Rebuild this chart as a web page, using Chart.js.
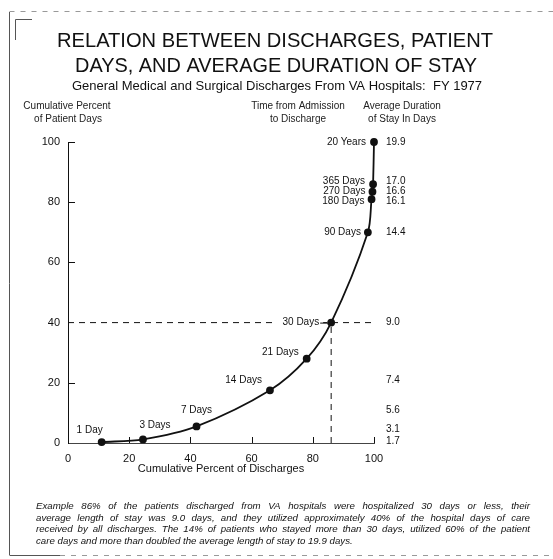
<!DOCTYPE html>
<html>
<head>
<meta charset="utf-8">
<script src="https://cdn.jsdelivr.net/npm/chart.js@4.4.1/dist/chart.umd.min.js"></script>
<style>
  html, body { margin: 0; padding: 0; background: #fff; }
  #wrap { width: 553px; height: 559px; position: relative; }
</style>
</head>
<body>
<div id="wrap"><canvas id="stay_chart"></canvas></div>
<script>
(function () {
    "use strict";

    // data
    const stayLabels = ['1 Day', '3 Days', '7 Days', '14 Days', '21 Days', '30 Days',
        '90 Days', '180 Days', '270 Days', '365 Days', '20 Years'];
    const pctDischarges = [11, 24.5, 42, 66, 78, 86, 98, 99.2, 99.5, 99.7, 100];
    const pctPatientDays = [0.3, 1.2, 5.5, 17.5, 28, 40, 70, 81, 83.5, 86, 100];
    const avgStay = [null, 1.7, 3.1, 5.6, 7.4, 9.0, 14.4, 16.1, 16.6, 17.0, 19.9];
    const xTicks = [0, 20, 40, 60, 80, 100];
    const yTicks = [0, 20, 40, 60, 80, 100];
    const refIndex = 5; // the 30 day point used for the guide lines

    const FONT = '"Liberation Sans", Arial, sans-serif';
    const ink = '#111';

    const points = pctDischarges.map((x, i) => ({ x: x, y: pctPatientDays[i] }));
    const ref = points[refIndex];

    // label placement next to each point: [dx, dy, align]
    const labelPos = [
        [-12, -12, 'center'], [12, -14, 'center'], [0, -16, 'center'],
        [-8, -10, 'right'], [-8, -6, 'right'], [-12, 0, 'right'],
        [-7, 0, 'right'], [-7, 2, 'right'], [-7, 0, 'right'], [-8, -3, 'right'], [-8, 0, 'right']
    ];
    // small vertical nudges for the right hand column
    const avgNudge = [0, 2, 3, 20, 22, 0, 0, 2, 0, -3, 0];

    const footLines = [
        'Example  86% of the patients discharged from VA hospitals were hospitalized 30 days or less, their',
        'average length of stay was 9.0 days, and they utilized approximately 40% of the hospital days of care',
        'received by all discharges. The 14% of patients who stayed more than 30 days, utilized 60% of the patient',
        'care days and more than doubled the average length of stay to 19.9 days.'
    ];

    function justify(ctx, text, x, y, width) {
        const words = text.split(' ').filter(w => w.length);
        let total = 0;
        words.forEach(w => { total += ctx.measureText(w).width; });
        const gap = (width - total) / (words.length - 1);
        let cx = x;
        words.forEach(w => {
            ctx.fillText(w, cx, y);
            cx += ctx.measureText(w).width + gap;
        });
    }

    const decorations = {
        id: 'decorations',
        beforeDraw(chart) {
            const c = chart.ctx;
            c.save();
            c.fillStyle = '#fff';
            c.fillRect(0, 0, chart.width, chart.height);
            // scanned frame
            c.strokeStyle = '#555';
            c.lineWidth = 1;
            c.beginPath();
            c.moveTo(9.5, 12); c.lineTo(9.5, 555);
            c.moveTo(9.5, 555.5); c.lineTo(60, 555.5);
            c.moveTo(15.5, 40); c.lineTo(15.5, 19.5); c.lineTo(32, 19.5);
            c.stroke();
            c.strokeStyle = '#999';
            c.setLineDash([5, 6]);
            c.beginPath();
            c.moveTo(9.5, 11.5); c.lineTo(553, 11.5);
            c.moveTo(60, 555.5); c.lineTo(553, 555.5);
            c.stroke();
            c.setLineDash([]);

            // titles
            c.fillStyle = ink;
            c.textAlign = 'center';
            c.textBaseline = 'alphabetic';
            c.font = '21px ' + FONT;
            c.fillText('RELATION BETWEEN DISCHARGES, PATIENT', 275, 47, 436);
            c.fillText('DAYS, AND AVERAGE DURATION OF STAY', 276, 72, 402);
            c.font = '13px ' + FONT;
            c.fillText('General Medical and Surgical Discharges From VA Hospitals:  FY 1977', 277, 90, 422);

            // column headers
            c.font = '10px ' + FONT;
            c.fillStyle = '#222';
            c.fillText('Cumulative Percent', 67, 109);
            c.fillText('of Patient Days', 68, 122);
            c.fillText('Time from Admission', 298, 109);
            c.fillText('to Discharge', 298, 122);
            c.fillText('Average Duration', 402, 109);
            c.fillText('of Stay In Days', 402, 122);

            // footnote
            c.font = 'italic 9.7px ' + FONT;
            c.textAlign = 'left';
            c.fillStyle = ink;
            footLines.forEach((line, i) => {
                const y = 509 + i * 11.7;
                if (i < footLines.length - 1) justify(c, line, 36, y, 494);
                else c.fillText(line, 36, y);
            });
            c.restore();
        },
        afterDraw(chart) {
            const c = chart.ctx;
            const xs = chart.scales.x, ys = chart.scales.y;
            const area = chart.chartArea;
            c.save();
            c.strokeStyle = ink;
            c.lineWidth = 1;
            // inward ticks
            c.beginPath();
            yTicks.forEach(v => {
                if (v === 0 || v === ref.y) return;
                const py = Math.round(ys.getPixelForValue(v)) + 0.5;
                c.moveTo(area.left, py); c.lineTo(area.left + 7, py);
            });
            xTicks.forEach(v => {
                if (v === 0) return;
                const px = Math.round(xs.getPixelForValue(v)) + 0.5;
                c.moveTo(px, area.bottom); c.lineTo(px, area.bottom - 6);
            });
            c.stroke();

            // time labels beside the points
            c.font = '10px ' + FONT;
            c.textBaseline = 'middle';
            c.fillStyle = ink;
            points.forEach((p, i) => {
                const px = xs.getPixelForValue(p.x);
                const py = ys.getPixelForValue(p.y);
                const [dx, dy, align] = labelPos[i];
                c.textAlign = align;
                if (i === refIndex) {
                    const w = c.measureText(stayLabels[i]).width;
                    c.fillStyle = '#fff';
                    c.fillRect(px + dx - w - 10, py - 7, w + 14, 14);
                    c.fillStyle = ink;
                    c.beginPath();
                    c.moveTo(px + dx + 1, py + 0.5); c.lineTo(px - 2, py + 0.5);
                    c.stroke();
                }
                c.fillText(stayLabels[i], px + dx, py + dy);
            });

            // average duration column
            c.textAlign = 'left';
            avgStay.forEach((v, i) => {
                if (v === null) return;
                const py = ys.getPixelForValue(pctPatientDays[i]) + avgNudge[i];
                c.fillText(v.toFixed(1), area.right + 12, py);
            });
            c.restore();
        }
    };

    const ctx = document.getElementById('stay_chart').getContext('2d');

    new Chart(ctx, {
        type: 'scatter',
        data: {
            datasets: [{
                data: points,
                showLine: true,
                clip: false,
                borderColor: ink,
                borderWidth: 1.8,
                tension: 0.3,
                pointRadius: 3,
                pointBackgroundColor: ink,
                pointBorderColor: ink
            }, {
                data: [{ x: 0, y: ref.y }, { x: 100, y: ref.y }],
                showLine: true,
                borderColor: ink,
                borderWidth: 1,
                borderDash: [6, 5],
                pointRadius: 0
            }, {
                data: [{ x: ref.x, y: 0 }, { x: ref.x, y: ref.y }],
                showLine: true,
                borderColor: ink,
                borderWidth: 1,
                borderDash: [6, 5],
                pointRadius: 0
            }]
        },
        options: {
            responsive: true,
            maintainAspectRatio: false,
            animation: false,
            layout: {
                padding: { left: 20, top: 142, right: 179, bottom: 83 }
            },
            plugins: {
                legend: { display: false },
                tooltip: { enabled: false }
            },
            scales: {
                x: {
                    type: 'linear',
                    min: 0,
                    max: 100,
                    afterFit(scale) { scale.height = 33; },
                    afterBuildTicks(scale) { scale.ticks = xTicks.map(v => ({ value: v })); },
                    grid: { display: false, drawTicks: false },
                    border: { display: true, color: '#444', width: 1, dash: [7, 3] },
                    ticks: {
                        padding: 9,
                        color: ink,
                        font: { family: FONT, size: 11 }
                    },
                    title: {
                        display: true,
                        text: 'Cumulative Percent of Discharges',
                        color: ink,
                        padding: { top: 0, bottom: 0 },
                        font: { family: FONT, size: 11 }
                    }
                },
                y: {
                    type: 'linear',
                    min: 0,
                    max: 100,
                    afterFit(scale) { scale.width = 48; },
                    afterBuildTicks(scale) { scale.ticks = yTicks.map(v => ({ value: v })); },
                    grid: { display: false, drawTicks: false },
                    border: { display: true, color: ink, width: 1 },
                    ticks: {
                        padding: 8,
                        color: ink,
                        font: { family: FONT, size: 11 }
                    }
                }
            }
        },
        plugins: [decorations]
    });
})();
</script>
</body>
</html>
